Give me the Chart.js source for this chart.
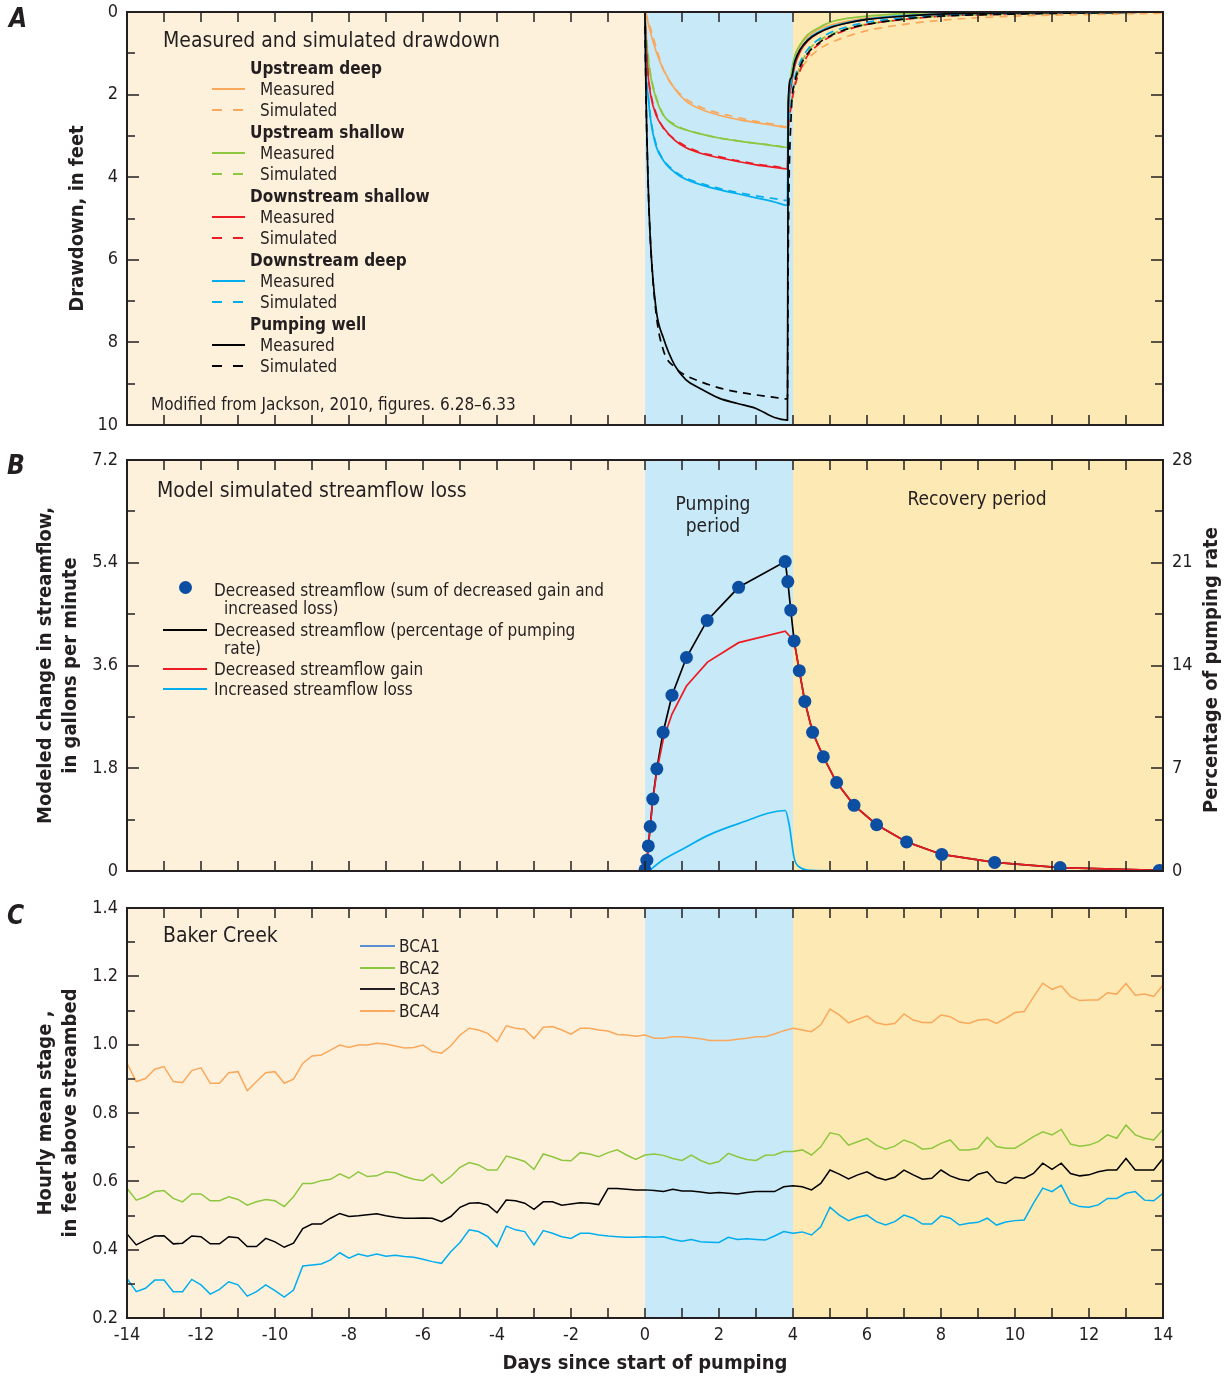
<!DOCTYPE html>
<html lang="en">
<head>
<meta charset="UTF-8">
<title>Drawdown and streamflow loss</title>
<script src="https://cdn.jsdelivr.net/npm/chart.js@4.4.1/dist/chart.umd.min.js"></script>
<style>
  body { margin: 0; background: #fff; }
  #wrap { position: relative; width: 1227px; height: 1379px; overflow: hidden; }
  canvas { position: absolute; left: 0; }
  .t { position: absolute; white-space: nowrap; color: #231f20; font-family: 'Liberation Sans Narrow', 'DejaVu Sans Condensed', Roboto, sans-serif;
       font-size: 17px; line-height: 22px; height: 22px; }
  .big { font-size: 21px; }
  .b { font-weight: bold; }
  .letter { font-weight: bold; font-style: italic; font-size: 26px; line-height: 30px; height: 30px; }
  .rot { font-weight: bold; font-size: 20px; width: 300px; text-align: center; transform: rotate(-90deg); }
  .ln { position: absolute; height: 0; border-top: 2px solid; }
  .dot { position: absolute; width: 13px; height: 13px; border-radius: 50%; background: #0b4ea2; }
</style>
</head>
<body>
<div id="wrap">
  <canvas id="chartA" width="1227" height="440" style="top:0"></canvas>
  <canvas id="chartB" width="1227" height="440" style="top:445px"></canvas>
  <canvas id="chartC" width="1227" height="489" style="top:890px"></canvas>

  <!-- panel A -->
  <div class="t letter" style="left:9px;top:3px">A</div>
  <div class="t big" style="left:163px;top:29px">Measured and simulated drawdown</div>
  <div class="t b" style="left:250px;top:57px">Upstream deep</div>
  <div class="ln" style="left:212px;top:88px;width:33px;border-color:#f9a85c"></div>
  <div class="t" style="left:260px;top:78px">Measured</div>
  <div class="ln" style="left:212px;top:109px;width:10px;border-color:#f9a85c"></div>
  <div class="ln" style="left:233px;top:109px;width:10px;border-color:#f9a85c"></div>
  <div class="t" style="left:260px;top:99px">Simulated</div>
  <div class="t b" style="left:250px;top:121px">Upstream shallow</div>
  <div class="ln" style="left:212px;top:152px;width:33px;border-color:#8dc63f"></div>
  <div class="t" style="left:260px;top:142px">Measured</div>
  <div class="ln" style="left:212px;top:173px;width:10px;border-color:#8dc63f"></div>
  <div class="ln" style="left:233px;top:173px;width:10px;border-color:#8dc63f"></div>
  <div class="t" style="left:260px;top:163px">Simulated</div>
  <div class="t b" style="left:250px;top:185px">Downstream shallow</div>
  <div class="ln" style="left:212px;top:216px;width:33px;border-color:#ed1c24"></div>
  <div class="t" style="left:260px;top:206px">Measured</div>
  <div class="ln" style="left:212px;top:237px;width:10px;border-color:#ed1c24"></div>
  <div class="ln" style="left:233px;top:237px;width:10px;border-color:#ed1c24"></div>
  <div class="t" style="left:260px;top:227px">Simulated</div>
  <div class="t b" style="left:250px;top:249px">Downstream deep</div>
  <div class="ln" style="left:212px;top:280px;width:33px;border-color:#00aeef"></div>
  <div class="t" style="left:260px;top:270px">Measured</div>
  <div class="ln" style="left:212px;top:301px;width:10px;border-color:#00aeef"></div>
  <div class="ln" style="left:233px;top:301px;width:10px;border-color:#00aeef"></div>
  <div class="t" style="left:260px;top:291px">Simulated</div>
  <div class="t b" style="left:250px;top:313px">Pumping well</div>
  <div class="ln" style="left:212px;top:344px;width:33px;border-color:#000"></div>
  <div class="t" style="left:260px;top:334px">Measured</div>
  <div class="ln" style="left:212px;top:365px;width:10px;border-color:#000"></div>
  <div class="ln" style="left:233px;top:365px;width:10px;border-color:#000"></div>
  <div class="t" style="left:260px;top:355px">Simulated</div>
  <div class="t" style="left:151px;top:393px">Modified from Jackson, 2010, figures. 6.28–6.33</div>

  <!-- panel B -->
  <div class="t letter" style="left:7px;top:450px">B</div>
  <div class="t big" style="left:157px;top:479px">Model simulated streamflow loss</div>
  <div class="t big" style="left:663px;top:492px;width:100px;text-align:center;font-size:19px">Pumping</div>
  <div class="t big" style="left:663px;top:514px;width:100px;text-align:center;font-size:19px">period</div>
  <div class="t big" style="left:877px;top:487px;width:200px;text-align:center;font-size:19px">Recovery period</div>
  <div class="dot" style="left:179px;top:581px"></div>
  <div class="t" style="left:214px;top:579px">Decreased streamflow (sum of decreased gain and</div>
  <div class="t" style="left:224px;top:597px">increased loss)</div>
  <div class="ln" style="left:163px;top:629px;width:44px;border-color:#000"></div>
  <div class="t" style="left:214px;top:619px">Decreased streamflow (percentage of pumping</div>
  <div class="t" style="left:224px;top:637px">rate)</div>
  <div class="ln" style="left:163px;top:668px;width:44px;border-color:#ed1c24"></div>
  <div class="t" style="left:214px;top:658px">Decreased streamflow gain</div>
  <div class="ln" style="left:163px;top:688px;width:44px;border-color:#00aeef"></div>
  <div class="t" style="left:214px;top:678px">Increased streamflow loss</div>
  <div class="t rot" style="left:1060px;top:659px">Percentage of pumping rate</div>

  <!-- panel C -->
  <div class="t letter" style="left:7px;top:900px">C</div>
  <div class="t big" style="left:163px;top:924px">Baker Creek</div>
  <div class="ln" style="left:360px;top:945px;width:35px;border-color:#5b8fd4"></div>
  <div class="t" style="left:399px;top:935px">BCA1</div>
  <div class="ln" style="left:360px;top:967px;width:35px;border-color:#8dc63f"></div>
  <div class="t" style="left:399px;top:957px">BCA2</div>
  <div class="ln" style="left:360px;top:988px;width:35px;border-color:#231f20"></div>
  <div class="t" style="left:399px;top:978px">BCA3</div>
  <div class="ln" style="left:360px;top:1010px;width:35px;border-color:#f9a85c"></div>
  <div class="t" style="left:399px;top:1000px">BCA4</div>
</div>

<script>
// ---------- data ----------
// period edges (days since start of pumping): before, pumping, recovery
var periodEdges = [-14, 0, 4, 14];

// panel A: drawdown, feet. pumping part then recovery part
var drawTimes = [0, 0.02, 0.08, 0.15, 0.3, 0.5, 0.8, 1.1, 1.5, 2, 2.5, 3, 3.5, 3.85,
                 3.87, 3.95, 4.05, 4.2, 4.4, 4.7, 5, 5.5, 6, 7, 8, 10, 12, 14];
var upDeepMeas = [0, 0.03, 0.25, 0.5, 0.95, 1.4, 1.85, 2.15, 2.35, 2.5, 2.6, 2.68, 2.75, 2.8,
                  2.2, 1.6, 1.1, 0.8, 0.6, 0.42, 0.32, 0.22, 0.15, 0.08, 0.04, 0.02, 0.01, 0];
var upDeepSim = [0, 0.02, 0.2, 0.4, 0.85, 1.4, 1.85, 2.1, 2.3, 2.45, 2.55, 2.65, 2.72, 2.78,
                 2.6, 2.1, 1.7, 1.4, 1.15, 0.9, 0.75, 0.58, 0.45, 0.3, 0.2, 0.1, 0.06, 0.03];
var upShallowMeas = [0, 0.4, 1.1, 1.55, 2.1, 2.5, 2.75, 2.85, 2.95, 3.05, 3.12, 3.18, 3.24, 3.28,
                     2.3, 1.5, 1.05, 0.78, 0.55, 0.38, 0.25, 0.15, 0.1, 0.04, 0.01, -0.02, -0.01, 0];
var upShallowSim = [0, 0.35, 1.0, 1.5, 2.05, 2.5, 2.72, 2.85, 2.95, 3.05, 3.12, 3.18, 3.23, 3.27,
                    2.8, 2.2, 1.7, 1.3, 0.95, 0.7, 0.55, 0.4, 0.3, 0.18, 0.1, 0.05, 0.02, 0];
var downShallowMeas = [0, 0.6, 1.5, 2.0, 2.5, 2.8, 3.1, 3.28, 3.42, 3.53, 3.62, 3.7, 3.76, 3.8,
                       2.6, 1.8, 1.3, 0.95, 0.7, 0.5, 0.38, 0.26, 0.18, 0.1, 0.05, 0.02, 0.01, 0];
var downShallowSim = [0, 0.55, 1.45, 1.95, 2.45, 2.82, 3.08, 3.25, 3.4, 3.5, 3.6, 3.68, 3.74, 3.78,
                      3.0, 2.3, 1.8, 1.4, 1.05, 0.78, 0.6, 0.42, 0.3, 0.18, 0.1, 0.05, 0.02, 0];
var downDeepMeas = [0, 1.3, 2.0, 2.6, 3.25, 3.6, 3.88, 4.05, 4.18, 4.3, 4.4, 4.5, 4.6, 4.68,
                    2.5, 1.7, 1.2, 0.9, 0.66, 0.48, 0.36, 0.25, 0.17, 0.09, 0.05, 0.02, 0.01, 0];
var downDeepSim = [0, 1.25, 1.95, 2.55, 3.2, 3.58, 3.85, 4.02, 4.15, 4.27, 4.37, 4.45, 4.52, 4.56,
                   3.0, 2.2, 1.6, 1.2, 0.9, 0.66, 0.5, 0.35, 0.25, 0.14, 0.08, 0.04, 0.02, 0];
var wellMeas = [0, 1.6, 4.0, 5.6, 7.2, 7.9, 8.55, 8.9, 9.12, 9.35, 9.48, 9.6, 9.82, 9.88,
                2.2, 1.6, 1.2, 0.9, 0.68, 0.5, 0.38, 0.26, 0.18, 0.1, 0.05, 0.02, 0.01, 0];
var wellSim = [0, 1.6, 4.0, 5.6, 7.3, 8.2, 8.6, 8.8, 8.95, 9.1, 9.2, 9.27, 9.33, 9.37,
               6.0, 2.5, 1.7, 1.3, 1.0, 0.75, 0.58, 0.4, 0.3, 0.17, 0.1, 0.05, 0.02, 0];

// panel B: streamflow change, gallons per minute
var totalDays = [0, 0.05, 0.09, 0.14, 0.21, 0.32, 0.49, 0.73, 1.12, 1.68, 2.53, 3.79,
                 3.86, 3.94, 4.03, 4.17, 4.32, 4.53, 4.82, 5.18, 5.65, 6.26, 7.07, 8.02, 9.45, 11.22, 13.9];
var totalLoss = [0.02, 0.19, 0.44, 0.78, 1.26, 1.79, 2.43, 3.08, 3.74, 4.39, 4.97, 5.42,
                 5.07, 4.57, 4.03, 3.51, 2.97, 2.43, 2.0, 1.55, 1.15, 0.81, 0.51, 0.29, 0.15, 0.06, 0.01];
var gainDays = [0, 0.05, 0.09, 0.14, 0.21, 0.32, 0.49, 0.73, 1.12, 1.69, 2.53, 3.79,
                4.03, 4.17, 4.32, 4.53, 4.82, 5.18, 5.65, 6.26, 7.07, 8.02, 9.45, 11.22, 13.9];
var gainLoss = [0, 0.15, 0.42, 0.76, 1.24, 1.75, 2.3, 2.75, 3.24, 3.66, 4.0, 4.2,
                4.03, 3.51, 2.97, 2.43, 2.0, 1.55, 1.15, 0.81, 0.51, 0.29, 0.15, 0.06, 0.01];
var lossDays = [0.1, 0.5, 1.12, 1.69, 2.53, 3.79, 3.9, 4.03, 4.17, 4.5, 6, 14];
var lossValues = [0, 0.2, 0.42, 0.62, 0.83, 1.06, 0.8, 0.23, 0.07, 0.01, 0, 0];

// panel C: hourly mean stage, feet above streambed, read every quarter day from -14 to 14
var bca4 = [0.945, 0.892, 0.901, 0.928, 0.936, 0.892, 0.889, 0.924, 0.932, 0.887, 0.887, 0.918, 0.921, 0.865, 0.892,
  0.918, 0.921, 0.887, 0.899, 0.945, 0.967, 0.97, 0.984, 0.999, 0.992, 0.999, 0.999, 1.004, 1.002,
  0.996, 0.99, 0.992, 0.999, 0.98, 0.975, 0.996, 1.028, 1.048, 1.043, 1.033, 1.009, 1.055, 1.048,
  1.045, 1.018, 1.051, 1.053, 1.043, 1.031, 1.048, 1.048, 1.043, 1.04, 1.03, 1.028, 1.025, 1.028,
  1.019, 1.019, 1.023, 1.023, 1.02, 1.017, 1.012, 1.012, 1.012, 1.016, 1.019, 1.023, 1.023, 1.031,
  1.041, 1.048, 1.043, 1.038, 1.058, 1.104, 1.087, 1.064, 1.074, 1.084, 1.064, 1.058, 1.062, 1.09,
  1.072, 1.065, 1.065, 1.087, 1.082, 1.066, 1.062, 1.072, 1.074, 1.062, 1.077, 1.094, 1.097, 1.14,
  1.18, 1.162, 1.172, 1.141, 1.129, 1.131, 1.131, 1.152, 1.148, 1.179, 1.145, 1.148, 1.141, 1.175];
var bca2 = [0.58, 0.545, 0.555, 0.57, 0.573, 0.55, 0.54, 0.563, 0.563, 0.543, 0.543, 0.555, 0.547, 0.53, 0.54,
  0.547, 0.543, 0.526, 0.555, 0.594, 0.594, 0.602, 0.606, 0.622, 0.609, 0.628, 0.614, 0.616, 0.628,
  0.625, 0.614, 0.606, 0.602, 0.621, 0.594, 0.614, 0.641, 0.655, 0.648, 0.633, 0.633, 0.674, 0.667,
  0.658, 0.635, 0.68, 0.672, 0.662, 0.66, 0.684, 0.68, 0.672, 0.684, 0.692, 0.677, 0.664, 0.677,
  0.68, 0.676, 0.667, 0.661, 0.677, 0.661, 0.651, 0.658, 0.682, 0.672, 0.664, 0.661, 0.676, 0.677,
  0.687, 0.687, 0.692, 0.677, 0.701, 0.742, 0.736, 0.706, 0.716, 0.726, 0.706, 0.694, 0.703, 0.721,
  0.711, 0.694, 0.697, 0.711, 0.721, 0.692, 0.692, 0.697, 0.729, 0.702, 0.697, 0.697, 0.713, 0.731,
  0.745, 0.736, 0.752, 0.709, 0.703, 0.706, 0.716, 0.736, 0.726, 0.765, 0.736, 0.726, 0.721, 0.752];
var bca3 = [0.446, 0.414, 0.428, 0.44, 0.441, 0.417, 0.419, 0.44, 0.438, 0.417, 0.417, 0.438, 0.435, 0.409, 0.409,
  0.433, 0.423, 0.407, 0.419, 0.462, 0.475, 0.475, 0.492, 0.506, 0.497, 0.499, 0.502, 0.505, 0.499,
  0.495, 0.492, 0.492, 0.493, 0.492, 0.482, 0.497, 0.524, 0.536, 0.537, 0.531, 0.508, 0.545, 0.543,
  0.536, 0.518, 0.54, 0.54, 0.53, 0.534, 0.537, 0.536, 0.532, 0.579, 0.579, 0.577, 0.575, 0.575,
  0.573, 0.57, 0.577, 0.572, 0.572, 0.569, 0.565, 0.567, 0.565, 0.563, 0.567, 0.57, 0.57, 0.57,
  0.584, 0.587, 0.584, 0.575, 0.594, 0.633, 0.621, 0.607, 0.619, 0.628, 0.612, 0.604, 0.612, 0.633,
  0.619, 0.606, 0.609, 0.633, 0.616, 0.606, 0.602, 0.621, 0.628, 0.599, 0.594, 0.612, 0.609, 0.623,
  0.653, 0.635, 0.653, 0.623, 0.616, 0.619, 0.628, 0.633, 0.633, 0.667, 0.633, 0.633, 0.633, 0.667];
var bca1 = [0.316, 0.277, 0.287, 0.311, 0.311, 0.277, 0.277, 0.313, 0.297, 0.27, 0.284, 0.306, 0.297, 0.264, 0.277,
  0.297, 0.28, 0.261, 0.282, 0.352, 0.355, 0.358, 0.37, 0.391, 0.375, 0.387, 0.381, 0.387, 0.381,
  0.384, 0.38, 0.378, 0.372, 0.365, 0.36, 0.394, 0.421, 0.458, 0.453, 0.438, 0.409, 0.469, 0.458,
  0.453, 0.414, 0.456, 0.448, 0.438, 0.433, 0.448, 0.448, 0.443, 0.44, 0.438, 0.436, 0.436, 0.438,
  0.436, 0.438, 0.43, 0.425, 0.43, 0.423, 0.422, 0.421, 0.436, 0.43, 0.432, 0.43, 0.428, 0.44,
  0.453, 0.448, 0.452, 0.443, 0.467, 0.524, 0.501, 0.485, 0.495, 0.501, 0.482, 0.472, 0.482, 0.501,
  0.492, 0.475, 0.475, 0.499, 0.492, 0.472, 0.477, 0.48, 0.492, 0.472, 0.481, 0.485, 0.487, 0.536,
  0.58, 0.57, 0.589, 0.536, 0.526, 0.524, 0.531, 0.55, 0.55, 0.565, 0.57, 0.545, 0.543, 0.565];
var stageDays = [];
for (var d = -14; d <= 14.001; d += 0.25) stageDays.push(Math.round(d * 100) / 100);

// ---------- helpers ----------
var FONT = "'Liberation Sans Narrow', 'DejaVu Sans Condensed', Roboto, sans-serif";
var INK = '#231f20';
var ORANGE = '#f9a85c', GREEN = '#8dc63f', RED = '#ed1c24', CYAN = '#00aeef', BLUE = '#0b4ea2';

function pts(xs, ys) {
  return xs.map(function (x, i) { return { x: x, y: ys[i] }; });
}

function line(label, xs, ys, color, dashed, extra) {
  var ds = {
    label: label, data: pts(xs, ys), borderColor: color, borderWidth: 1.7,
    pointRadius: 0, fill: false, borderDash: dashed ? [8, 6] : []
  };
  return Object.assign(ds, extra || {});
}

// coloured background for the three periods
var bandsPlugin = {
  id: 'bands',
  beforeDatasetsDraw: function (chart) {
    var ctx = chart.ctx, a = chart.chartArea, x = chart.scales.x;
    var colors = ['#fef1dc', '#c7e9f8', '#fde9b3'];
    ctx.save();
    for (var i = 0; i < periodEdges.length - 1; i++) {
      var x0 = x.getPixelForValue(periodEdges[i]);
      var x1 = x.getPixelForValue(periodEdges[i + 1]);
      ctx.fillStyle = colors[i];
      ctx.fillRect(x0, a.top, x1 - x0, a.height);
    }
    ctx.restore();
  }
};

// inward ticks on all four sides plus the frame
var frameTicks = {
  id: 'frameTicks',
  afterDatasetsDraw: function (chart) {
    var ctx = chart.ctx, a = chart.chartArea, x = chart.scales.x, y = chart.scales.y;
    ctx.save();
    ctx.strokeStyle = INK;
    ctx.lineWidth = 1.5;
    ctx.beginPath();
    x.ticks.forEach(function (t) {
      var px = Math.round(x.getPixelForValue(t.value));
      ctx.moveTo(px, a.top); ctx.lineTo(px, a.top + 10);
      ctx.moveTo(px, a.bottom); ctx.lineTo(px, a.bottom - 10);
    });
    y.ticks.forEach(function (t, i) {
      var py = Math.round(y.getPixelForValue(t.value));
      var len = i % 2 === 0 ? 12 : 8;
      ctx.moveTo(a.left, py); ctx.lineTo(a.left + len, py);
      ctx.moveTo(a.right, py); ctx.lineTo(a.right - len, py);
    });
    ctx.stroke();
    ctx.lineWidth = 2;
    ctx.strokeRect(a.left, a.top, a.right - a.left, a.bottom - a.top);
    ctx.restore();
  }
};

// fixed axis sizes so the three plot areas line up
function fixWidth(w) {
  return function (s) { s.width = w; s.paddingTop = 0; s.paddingBottom = 0; };
}

function xScale(height, showLabels) {
  return {
    type: 'linear', min: -14, max: 14,
    grid: { display: false, drawTicks: false }, border: { display: false },
    ticks: {
      stepSize: 1, display: showLabels, color: INK, padding: 7,
      font: { family: FONT, size: 18 }, maxRotation: 0, autoSkip: false,
      callback: function (v) { return v % 2 === 0 ? String(v) : ''; }
    },
    title: showLabels ? {
      display: true, text: 'Days since start of pumping', color: INK,
      font: { family: FONT, size: 20, weight: 'bold' }, padding: { top: 0, bottom: 3 }
    } : { display: false },
    afterFit: function (s) { s.height = height; s.paddingLeft = 0; s.paddingRight = 0; }
  };
}

function yTitle(text, top) {
  return { display: true, text: text, color: INK, font: { family: FONT, size: 20, weight: 'bold', lineHeight: 1.25 }, padding: { top: top, bottom: 0 } };
}

var base = {
  responsive: false, animation: false, devicePixelRatio: 1,
  plugins: { legend: { display: false }, tooltip: { enabled: false } },
  elements: { line: { tension: 0 } }
};

// ---------- panel A ----------
new Chart(document.getElementById('chartA'), {
  type: 'line',
  data: {
    datasets: [
      line('Pumping well measured', drawTimes, wellMeas, '#000', false),
      line('Pumping well simulated', drawTimes, wellSim, '#000', true),
      line('Downstream deep measured', drawTimes, downDeepMeas, CYAN, false),
      line('Downstream deep simulated', drawTimes, downDeepSim, CYAN, true),
      line('Downstream shallow measured', drawTimes, downShallowMeas, RED, false),
      line('Downstream shallow simulated', drawTimes, downShallowSim, RED, true),
      line('Upstream shallow measured', drawTimes, upShallowMeas, GREEN, false),
      line('Upstream shallow simulated', drawTimes, upShallowSim, GREEN, true),
      line('Upstream deep measured', drawTimes, upDeepMeas, ORANGE, false),
      line('Upstream deep simulated', drawTimes, upDeepSim, ORANGE, true)
    ]
  },
  options: Object.assign({}, base, {
    layout: { padding: { top: 12, right: 64, left: 0, bottom: 0 } },
    elements: { line: { cubicInterpolationMode: 'monotone' } },
    scales: {
      x: xScale(15, false),
      y: {
        min: 0, max: 10, reverse: true,
        grid: { display: false, drawTicks: false }, border: { display: false },
        ticks: { stepSize: 1, color: INK, padding: 9, font: { family: FONT, size: 18 },
                 callback: function (v, i) { return i % 2 === 0 ? String(v) : ''; } },
        title: yTitle('Drawdown, in feet', 65),
        afterFit: fixWidth(127)
      }
    }
  }),
  plugins: [bandsPlugin, frameTicks]
});

// ---------- panel B ----------
new Chart(document.getElementById('chartB'), {
  type: 'line',
  data: {
    datasets: [
      { type: 'scatter', label: 'Decreased streamflow (sum of decreased gain and increased loss)',
        data: pts(totalDays, totalLoss), showLine: false, pointRadius: 6.5, pointBackgroundColor: BLUE,
        pointBorderColor: BLUE, pointBorderWidth: 0 },
      line('Decreased streamflow gain', gainDays, gainLoss, RED, false),
      line('Increased streamflow loss', lossDays, lossValues, CYAN, false, { cubicInterpolationMode: 'monotone' }),
      line('Decreased streamflow (percentage of pumping rate)', totalDays, totalLoss, '#000', false)
    ]
  },
  options: Object.assign({}, base, {
    layout: { padding: { top: 15, right: 0, left: 0, bottom: 0 } },
    scales: {
      x: xScale(14, false),
      y: {
        min: 0, max: 7.2,
        grid: { display: false, drawTicks: false }, border: { display: false },
        ticks: { stepSize: 0.9, color: INK, padding: 9, font: { family: FONT, size: 18 },
                 callback: function (v, i) { return i % 2 === 0 ? (v === 0 ? '0' : v.toFixed(1)) : ''; } },
        title: yTitle(['Modeled change in streamflow,', 'in gallons per minute'], 33),
        afterFit: fixWidth(127)
      },
      pct: {
        position: 'right', min: 0, max: 28,
        grid: { display: false, drawTicks: false }, border: { display: false },
        ticks: { stepSize: 3.5, color: INK, padding: 9, font: { family: FONT, size: 18 },
                 callback: function (v, i) { return i % 2 === 0 ? String(v) : ''; } },
        afterFit: fixWidth(64)
      }
    }
  }),
  plugins: [bandsPlugin, frameTicks]
});

// ---------- panel C ----------
new Chart(document.getElementById('chartC'), {
  type: 'line',
  data: {
    datasets: [
      line('BCA3', stageDays, bca3, '#000', false, { borderWidth: 1.5 }),
      line('BCA1', stageDays, bca1, CYAN, false, { borderWidth: 1.5 }),
      line('BCA2', stageDays, bca2, GREEN, false, { borderWidth: 1.5 }),
      line('BCA4', stageDays, bca4, ORANGE, false, { borderWidth: 1.5 })
    ]
  },
  options: Object.assign({}, base, {
    layout: { padding: { top: 18, right: 64, left: 0, bottom: 0 } },
    scales: {
      x: xScale(61, true),
      y: {
        min: 0.2, max: 1.4,
        grid: { display: false, drawTicks: false }, border: { display: false },
        ticks: { stepSize: 0.1, color: INK, padding: 9, font: { family: FONT, size: 18 },
                 callback: function (v, i) { return i % 2 === 0 ? v.toFixed(1) : ''; } },
        title: yTitle(['Hourly mean stage ,', 'in feet above streambed'], 33),
        afterFit: fixWidth(127)
      }
    }
  }),
  plugins: [bandsPlugin, frameTicks]
});
</script>
</body>
</html>
